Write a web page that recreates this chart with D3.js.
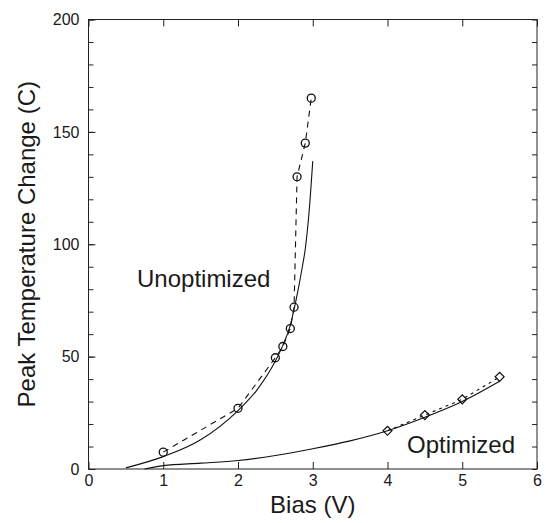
<html>
<head>
<title>Peak temperature vs bias</title>
<script src="https://cdn.jsdelivr.net/npm/d3@7"></script>
<style>
  body { margin: 0; background: #fff; }
  text { font-family: Arial, "Liberation Sans", sans-serif; fill: #1a1a1a; }
</style>
</head>
<body>
<script>
// measured points (dashed line + markers)
var unoptBias = [1, 2, 2.5, 2.6, 2.7, 2.75, 2.79, 2.9, 2.98];
var unoptTemp = [7.5, 27, 49.5, 54.5, 62.5, 72, 130, 145, 165];
var optBias = [4, 4.5, 5, 5.5];
var optTemp = [17, 24, 31, 41];

// model curves (solid)
var unoptModelBias = [0.5, 1, 1.5, 2, 2.25, 2.5, 2.6, 2.7, 2.75, 2.8, 2.85, 2.9, 2.95, 3];
var unoptModelTemp = [0.5, 5.5, 13, 26, 35, 48, 55, 64, 71, 79, 88, 98, 114, 137];
var optModelBias = [0.75, 1, 1.5, 2, 2.5, 3, 3.5, 4, 4.5, 5, 5.5];
var optModelTemp = [0, 1.5, 2.6, 3.8, 6, 9, 12.5, 17, 23, 30, 39];

var xTicks = [0, 1, 2, 3, 4, 5, 6];
var yTicks = [0, 50, 100, 150, 200];

var w = 546, h = 523;
var padL = 88.5, padR = 537, padT = 19.5, padB = 469;

var svg = d3.select("body").append("svg")
    .attr("width", w)
    .attr("height", h);

var x = d3.scaleLinear().domain([0, 6]).range([padL, padR]);
var y = d3.scaleLinear().domain([0, 200]).range([padB, padT]);

// ticks: major labelled axes plus minor ones, inward
var minorY = d3.range(0, 201, 10);

svg.append("g")
    .attr("transform", "translate(0," + padB + ")")
    .call(d3.axisBottom(x).tickValues(xTicks).tickSize(-7).tickPadding(6).tickFormat(d3.format("d")));
svg.append("g")
    .attr("transform", "translate(0," + padT + ")")
    .call(d3.axisTop(x).tickValues(xTicks).tickSize(-7).tickFormat(""));
svg.append("g")
    .attr("transform", "translate(" + padL + ",0)")
    .call(d3.axisLeft(y).tickValues(minorY).tickSize(-5).tickFormat(""));
svg.append("g")
    .attr("transform", "translate(" + padL + ",0)")
    .call(d3.axisLeft(y).tickValues(yTicks).tickSize(-7).tickPadding(9).tickFormat(d3.format("d")));
svg.append("g")
    .attr("transform", "translate(" + padR + ",0)")
    .call(d3.axisRight(y).tickValues(minorY).tickSize(-5).tickFormat(""));

svg.selectAll(".domain").remove();
svg.selectAll(".tick line").attr("stroke", "#222");
svg.selectAll(".tick text")
    .attr("font-size", "16px")
    .attr("font-family", "Arial, 'Liberation Sans', sans-serif")
    .attr("fill", "#333");

svg.append("rect")
    .attr("x", padL).attr("y", padT)
    .attr("width", padR - padL).attr("height", padB - padT)
    .attr("fill", "none").attr("stroke", "#222").attr("stroke-width", 1);

var line = d3.line()
    .x(function(d) { return x(d[0]); })
    .y(function(d) { return y(d[1]); });

var curve = d3.line()
    .curve(d3.curveMonotoneX)
    .x(function(d) { return x(d[0]); })
    .y(function(d) { return y(d[1]); });

function pairs(a, b) {
    return a.map(function(v, i) { return [v, b[i]]; });
}

// solid model lines
svg.append("path")
    .datum(pairs(unoptModelBias, unoptModelTemp))
    .attr("d", curve)
    .attr("fill", "none").attr("stroke", "#111").attr("stroke-width", 1.1);
svg.append("path")
    .datum(pairs(optModelBias, optModelTemp))
    .attr("d", curve)
    .attr("fill", "none").attr("stroke", "#111").attr("stroke-width", 1.1);

// dashed measured lines
svg.append("path")
    .datum(pairs(unoptBias, unoptTemp))
    .attr("d", line)
    .attr("fill", "none").attr("stroke", "#111").attr("stroke-width", 1.1)
    .attr("stroke-dasharray", "6,5");
svg.append("path")
    .datum(pairs(optBias, optTemp))
    .attr("d", line)
    .attr("fill", "none").attr("stroke", "#111").attr("stroke-width", 1.1)
    .attr("stroke-dasharray", "3,4");

// markers
svg.selectAll("circle.unopt")
    .data(pairs(unoptBias, unoptTemp))
    .enter()
    .append("circle")
    .attr("class", "unopt")
    .attr("cx", function(d) { return x(d[0]); })
    .attr("cy", function(d) { return y(d[1]); })
    .attr("r", 4)
    .attr("fill", "none")
    .attr("stroke", "#111")
    .attr("stroke-width", 1.3);

// diamonds = squares turned by 45 degrees
svg.selectAll("path.opt")
    .data(pairs(optBias, optTemp))
    .enter()
    .append("path")
    .attr("class", "opt")
    .attr("d", d3.symbol().type(d3.symbolSquare).size(40))
    .attr("transform", function(d) { return "translate(" + x(d[0]) + "," + y(d[1]) + ") rotate(45)"; })
    .attr("fill", "none")
    .attr("stroke", "#111")
    .attr("stroke-width", 1.2);

// labels
svg.append("text")
    .attr("x", 137).attr("y", 287)
    .attr("font-size", "24px")
    .text("Unoptimized");
svg.append("text")
    .attr("x", 407).attr("y", 453)
    .attr("font-size", "24px")
    .text("Optimized");

svg.append("text")
    .attr("x", (padL + padR) / 2).attr("y", 513)
    .attr("text-anchor", "middle")
    .attr("font-size", "24px")
    .text("Bias (V)");

svg.append("text")
    .attr("transform", "translate(35," + ((padT + padB) / 2) + ") rotate(-90)")
    .attr("text-anchor", "middle")
    .attr("font-size", "24px")
    .text("Peak Temperature Change (C)");
</script>
</body>
</html>
